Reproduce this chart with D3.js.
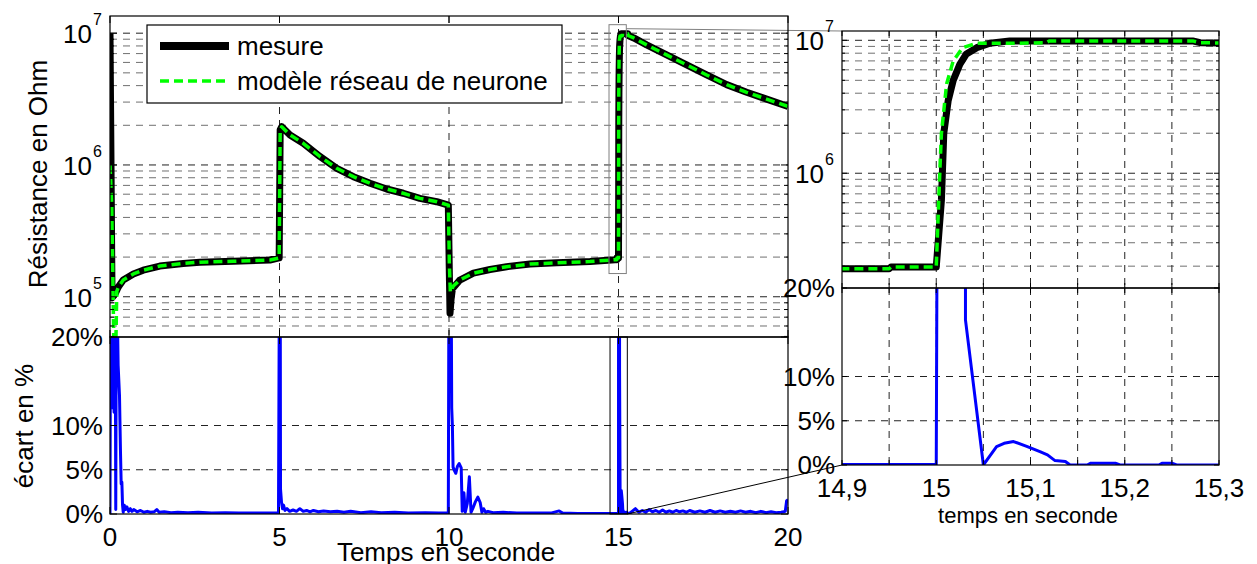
<!DOCTYPE html>
<html>
<head>
<meta charset="utf-8">
<script src="https://cdn.jsdelivr.net/npm/d3@7"></script>
<style>
  body { margin: 0; background: #fff; }
  svg { display: block; font-family: "Liberation Sans", Arial, sans-serif; }
</style>
</head>
<body>
<svg id="chart"></svg>
<script>
// Valeurs : [temps (s), résistance (Ohm)]
const mesure = [
  [0, 1e7], [0.06, 9.8e4], [0.15, 1.05e5], [0.22, 1.15e5], [0.25, 1.19e5], [0.39, 1.34e5],
  [0.69, 1.49e5], [0.98, 1.59e5], [1.47, 1.71e5], [2.16, 1.79e5], [2.65, 1.83e5],
  [3.64, 1.86e5], [4.72, 1.9e5], [4.99, 1.97e5], [5.02, 1.85e6], [5.065, 1.95e6],
  [5.31, 1.69e6], [5.7, 1.46e6], [6.19, 1.16e6], [6.69, 9.44e5], [7.18, 8.15e5],
  [7.67, 7.26e5], [8.16, 6.57e5], [8.65, 6.1e5], [9.14, 5.58e5], [9.64, 5.26e5],
  [9.98, 4.96e5], [10.01, 1.5e5], [10.03, 7.5e4], [10.06, 9.5e4], [10.1, 1.15e5],
  [10.32, 1.34e5], [10.72, 1.51e5], [11.21, 1.61e5], [11.7, 1.69e5], [12.39, 1.77e5],
  [13.18, 1.81e5], [14.16, 1.85e5], [14.9, 1.91e5], [14.95, 1.91e5], [14.952, 1.97e5],
  [15.0, 1.97e5], [15.0055, 6.3e5], [15.008, 2e6], [15.0126, 3.5e6], [15.018, 5e6],
  [15.025, 6.6e6], [15.032, 7.9e6], [15.043, 8.8e6], [15.057, 9.5e6], [15.078, 9.9e6],
  [15.272, 9.9e6], [15.28, 9.6e6], [15.45, 9.2e6], [15.83, 8.15e6], [16.42, 6.84e6],
  [17.01, 5.74e6], [17.6, 4.82e6], [18.19, 4.07e6], [18.78, 3.56e6], [19.37, 3.16e6],
  [20, 2.78e6]
];

const modele = [
  [0, 1e6], [0.05, 5e5], [0.12, 3.5e4], [0.17, 4e4], [0.2, 1.1e5], [0.25, 1.19e5], [0.39, 1.34e5],
  [0.69, 1.49e5], [0.98, 1.59e5], [1.47, 1.71e5], [2.16, 1.79e5], [2.65, 1.83e5],
  [3.64, 1.86e5], [4.72, 1.9e5], [4.99, 1.97e5], [5.02, 1.85e6], [5.065, 1.95e6],
  [5.31, 1.69e6], [5.7, 1.46e6], [6.19, 1.16e6], [6.69, 9.44e5], [7.18, 8.15e5],
  [7.67, 7.26e5], [8.16, 6.57e5], [8.65, 6.1e5], [9.14, 5.58e5], [9.64, 5.26e5],
  [9.98, 4.96e5], [10.01, 1.8e5], [10.04, 1.08e5], [10.08, 1.12e5], [10.12, 1.2e5],
  [10.32, 1.34e5], [10.72, 1.51e5], [11.21, 1.61e5], [11.7, 1.69e5], [12.39, 1.77e5],
  [13.18, 1.81e5], [14.16, 1.85e5], [14.9, 1.91e5], [14.95, 1.91e5], [14.952, 1.97e5],
  [15.0, 1.97e5], [15.004, 1.12e6], [15.0055, 2e6], [15.011, 4.7e6], [15.018, 7e6],
  [15.028, 8.8e6], [15.043, 9.5e6], [15.081, 9.5e6], [15.117, 9.6e6], [15.12, 9.9e6],
  [15.272, 9.9e6], [15.28, 9.6e6], [15.45, 9.2e6], [15.83, 8.15e6], [16.42, 6.84e6],
  [17.01, 5.74e6], [17.6, 4.82e6], [18.19, 4.07e6], [18.78, 3.56e6], [19.37, 3.16e6],
  [20, 2.78e6]
];

// écart en % : [temps (s), écart]
const ecart = [
  [0, 0], [0.02, 30], [0.06, 12], [0.09, 30], [0.12, 11.5], [0.15, 30], [0.17, 0.5], [0.19, 30],
  [0.24, 16.8], [0.28, 13.4], [0.31, 6.9], [0.33, 3.4], [0.35, 3.6], [0.37, 1.0], [0.39, 0.2],
  [0.42, 1.0], [0.45, 0.5], [0.5, 0.8], [0.55, 0.3], [0.6, 0.6], [0.65, 0.3], [0.7, 0.5],
  [0.8, 0.25], [0.9, 0.4], [1.0, 0.2], [1.1, 0.3], [1.2, 0.2], [1.3, 0.25], [1.38, 0.5],
  [1.45, 0.2], [1.6, 0.25], [1.8, 0.15], [2.0, 0.2], [2.3, 0.15], [2.6, 0.2], [3.0, 0.1],
  [3.4, 0.15], [3.8, 0.1], [4.2, 0.1], [4.6, 0.1], [4.97, 0.1],
  [5.0, 30], [5.02, 30], [5.03, 2.8], [5.06, 1.3], [5.09, 0.6], [5.12, 1.0], [5.16, 0.4],
  [5.22, 0.6], [5.3, 0.3], [5.4, 0.45], [5.5, 0.3], [5.6, 0.6], [5.7, 0.3], [5.8, 0.4],
  [5.9, 0.25], [6.0, 0.4], [6.15, 0.25], [6.3, 0.35], [6.5, 0.25], [6.7, 0.3], [6.9, 0.2],
  [7.1, 0.3], [7.4, 0.15], [7.7, 0.25], [8.0, 0.15], [8.4, 0.2], [8.8, 0.1], [9.3, 0.15],
  [9.7, 0.1], [9.98, 0.1],
  [10.0, 30], [10.06, 30], [10.08, 12], [10.1, 10], [10.12, 5.3], [10.16, 4.9], [10.2, 4.6],
  [10.25, 5.4], [10.3, 5.7], [10.36, 5.2], [10.39, 0.3], [10.44, 2.4], [10.48, 0.2],
  [10.54, 1.2], [10.6, 4.2], [10.65, 0.2], [10.7, 0.6], [10.78, 1.4], [10.85, 1.9],
  [10.92, 1.3], [10.97, 0.2], [11.02, 0.6], [11.08, 0.2], [11.15, 0.3], [11.3, 0.15],
  [11.6, 0.2], [12.0, 0.1], [12.5, 0.1], [13.0, 0.1], [13.25, 0.35], [13.35, 0.1],
  [13.8, 0.05], [14.4, 0.05], [15.0, 0.05],
  [15.001, 30], [15.031, 30], [15.031, 16.4], [15.05, 0], [15.064, 2.07], [15.072, 2.45],
  [15.082, 2.65], [15.096, 2.1], [15.11, 1.5], [15.118, 1.15], [15.126, 0.5], [15.137, 0.4],
  [15.142, 0], [15.16, 0], [15.164, 0.2], [15.19, 0.2], [15.195, 0], [15.236, 0], [15.24, 0.2],
  [15.25, 0.2], [15.255, 0], [15.3, 0],
  [15.4, 0.3], [15.5, 0.6], [15.6, 0.2], [15.7, 0.4], [15.8, 0.2], [15.9, 0.5], [16.0, 0.25],
  [16.1, 0.4], [16.2, 0.2], [16.3, 0.45], [16.4, 0.2], [16.5, 0.35], [16.6, 0.2], [16.7, 0.4],
  [16.8, 0.25], [16.9, 0.35], [17.0, 0.2], [17.1, 0.4], [17.25, 0.2], [17.4, 0.35], [17.55, 0.2],
  [17.7, 0.4], [17.85, 0.2], [18.0, 0.35], [18.15, 0.2], [18.3, 0.3], [18.45, 0.2], [18.6, 0.35],
  [18.75, 0.2], [18.9, 0.3], [19.05, 0.15], [19.2, 0.3], [19.35, 0.15], [19.5, 0.25],
  [19.65, 0.15], [19.8, 0.2], [19.92, 0.3], [19.96, 1.5], [20, 1.6]
];

// Graduations
const xTicksMain = [0, 5, 10, 15, 20];
const xGridMain = [5, 10, 15];
const xTicksZoom = [14.9, 14.95, 15, 15.05, 15.1, 15.15, 15.2, 15.25, 15.3];
const xLabelZoomVals = [14.9, 15, 15.1, 15.2, 15.3];
const xLabelZoomText = ["14,9", "15", "15,1", "15,2", "15,3"];
const pctTicks = [0, 5, 10, 20];
const pctGrid = [5, 10];
const decades = [5, 6, 7];

// Zoom
const zoomTime = [14.9, 15.3];
const boxTopTime = [14.72, 15.23];
const boxTopRes = [1.5e5, 1.16e7];
const boxBotTime = [14.75, 15.26];

const W = 1257, H = 564;
const svg = d3.select("#chart").attr("width", W).attr("height", H);

// cadres des 4 axes
const TL = { l: 110, r: 788, t: 16, b: 337 };
const BL = { l: 110, r: 788, t: 337, b: 514 };
const TR = { l: 842, r: 1219, t: 31, b: 288 };
const BR = { l: 842, r: 1219, t: 288, b: 465 };

const xMain = d3.scaleLinear().domain([0, 20]).range([TL.l, TL.r]);
const xZoom = d3.scaleLinear().domain(zoomTime).range([TR.l, TR.r]);
const yTL = d3.scaleLog().domain([4.95e4, 1.35e7]).range([TL.b, TL.t]);
const yTR = d3.scaleLog().domain([1.37e5, 1.175e7]).range([TR.b, TR.t]);
const yBL = d3.scaleLinear().domain([0, 20]).range([BL.b, BL.t]);
const yBR = d3.scaleLinear().domain([0, 20]).range([BR.b, BR.t]);

const defs = svg.append("defs");
function clip(id, f) {
  defs.append("clipPath").attr("id", id).append("rect")
    .attr("x", f.l).attr("y", f.t).attr("width", f.r - f.l).attr("height", f.b - f.t);
  return `url(#${id})`;
}
const cTL = clip("cTL", TL), cTR = clip("cTR", TR), cBL = clip("cBL", BL), cBR = clip("cBR", BR);

const dash = "7,6";

function hGrid(f, vals, y, major) {
  svg.append("g").selectAll("line").data(vals).join("line")
    .attr("x1", f.l).attr("x2", f.r)
    .attr("y1", d => y(d)).attr("y2", d => y(d))
    .attr("stroke", d => (major && major(d)) ? "#222" : "#707070")
    .attr("stroke-width", 1).attr("stroke-dasharray", dash);
}
function vGrid(f, vals, x) {
  svg.append("g").selectAll("line").data(vals).join("line")
    .attr("y1", f.t).attr("y2", f.b)
    .attr("x1", d => x(d)).attr("x2", d => x(d))
    .attr("stroke", "#222").attr("stroke-width", 1).attr("stroke-dasharray", dash);
}
const isDecade = d => Math.abs(Math.log10(d) - Math.round(Math.log10(d))) < 1e-9;

// grilles
hGrid(TL, yTL.ticks().filter(d => yTL(d) > TL.t + 1 && yTL(d) < TL.b - 1), yTL, isDecade);
vGrid(TL, xGridMain, xMain);
hGrid(TR, yTR.ticks().filter(d => yTR(d) > TR.t + 1 && yTR(d) < TR.b - 1), yTR, isDecade);
vGrid(TR, xTicksZoom.slice(1, -1), xZoom);
hGrid(BL, pctGrid, yBL, () => true);
hGrid(BR, pctGrid, yBR, () => true);
vGrid(BR, xTicksZoom.slice(1, -1), xZoom);

// courbes
function drawRes(x, y, cp) {
  const line = d3.line().x(d => x(d[0])).y(d => y(d[1]));
  const g = svg.append("g").attr("clip-path", cp);
  g.append("path").datum(mesure).attr("d", line)
    .attr("fill", "none").attr("stroke", "#000").attr("stroke-width", 7)
    .attr("stroke-linejoin", "round");
  g.append("path").datum(modele).attr("d", line)
    .attr("fill", "none").attr("stroke", "#00ff00").attr("stroke-width", 3.5)
    .attr("stroke-dasharray", "9,5").attr("stroke-linejoin", "round");
}
drawRes(xMain, yTL, cTL);
drawRes(xZoom, yTR, cTR);

function drawErr(x, y, cp, w) {
  const line = d3.line().x(d => x(d[0])).y(d => y(d[1]));
  svg.append("g").attr("clip-path", cp).append("path").datum(ecart).attr("d", line)
    .attr("fill", "none").attr("stroke", "#0000ff").attr("stroke-width", w)
    .attr("stroke-linejoin", "round");
}
drawErr(xMain, yBL, cBL, 3);
drawErr(xZoom, yBR, cBR, 3);

// rectangles de zoom et traits de liaison
svg.append("rect")
  .attr("x", xMain(boxTopTime[0])).attr("y", yTL(boxTopRes[1]))
  .attr("width", xMain(boxTopTime[1]) - xMain(boxTopTime[0]))
  .attr("height", yTL(boxTopRes[0]) - yTL(boxTopRes[1]))
  .attr("fill", "none").attr("stroke", "#808080").attr("stroke-width", 1);
svg.append("rect")
  .attr("x", xMain(boxBotTime[0])).attr("y", BL.t)
  .attr("width", xMain(boxBotTime[1]) - xMain(boxBotTime[0]))
  .attr("height", BL.b - BL.t)
  .attr("fill", "none").attr("stroke", "#000").attr("stroke-width", 1);
svg.append("line")
  .attr("x1", xMain(boxTopTime[1])).attr("y1", yTL(boxTopRes[1]) + 4)
  .attr("x2", TR.l).attr("y2", TR.t)
  .attr("stroke", "#808080").attr("stroke-width", 1);
svg.append("line")
  .attr("x1", xMain(boxBotTime[1])).attr("y1", BL.b)
  .attr("x2", BR.l).attr("y2", BR.b)
  .attr("stroke", "#000").attr("stroke-width", 1);

// cadres et graduations
function frame(f) {
  svg.append("rect").attr("x", f.l).attr("y", f.t)
    .attr("width", f.r - f.l).attr("height", f.b - f.t)
    .attr("fill", "none").attr("stroke", "#000").attr("stroke-width", 1.2);
}
function xTickMarks(f, vals, x, len) {
  const g = svg.append("g").attr("stroke", "#000");
  vals.forEach(v => {
    g.append("line").attr("x1", x(v)).attr("x2", x(v)).attr("y1", f.b).attr("y2", f.b - len);
    g.append("line").attr("x1", x(v)).attr("x2", x(v)).attr("y1", f.t).attr("y2", f.t + len);
  });
}
function yTickMarks(f, vals, y, lenFn) {
  const g = svg.append("g").attr("stroke", "#000");
  vals.forEach(v => {
    const len = lenFn(v);
    g.append("line").attr("x1", f.l).attr("x2", f.l + len).attr("y1", y(v)).attr("y2", y(v));
    g.append("line").attr("x1", f.r).attr("x2", f.r - len).attr("y1", y(v)).attr("y2", y(v));
  });
}

xTickMarks(TL, xTicksMain, xMain, 7);
xTickMarks(BL, xTicksMain, xMain, 7);
xTickMarks(TR, xTicksZoom, xZoom, 5);
xTickMarks(BR, xTicksZoom, xZoom, 5);
yTickMarks(TL, yTL.ticks(), yTL, d => isDecade(d) ? 7 : 4);
yTickMarks(TR, yTR.ticks(), yTR, d => isDecade(d) ? 5 : 3);
yTickMarks(BL, pctTicks, yBL, () => 7);
yTickMarks(BR, pctTicks, yBR, () => 5);
[TL, BL, TR, BR].forEach(frame);

// étiquettes
const FS = 26;
function decadeLabels(f, y) {
  const g = svg.append("g").attr("fill", "#000");
  decades.filter(k => y(Math.pow(10, k)) >= f.t - 1 && y(Math.pow(10, k)) <= f.b + 1).forEach(k => {
    const yy = y(Math.pow(10, k));
    g.append("text").attr("x", f.l - 18).attr("y", yy + 10)
      .attr("text-anchor", "end").attr("font-size", FS).text("10");
    g.append("text").attr("x", f.l - 17).attr("y", yy - 8)
      .attr("font-size", 16).text(k);
  });
}
decadeLabels(TL, yTL);
decadeLabels(TR, yTR);

function pctLabels(f, y) {
  svg.append("g").selectAll("text").data(pctTicks).join("text")
    .attr("x", f.l - 7).attr("y", d => y(d) + 9)
    .attr("text-anchor", "end").attr("font-size", FS)
    .text(d => d + "%");
}
pctLabels(BL, yBL);
pctLabels(BR, yBR);

svg.append("g").selectAll("text").data(xTicksMain).join("text")
  .attr("x", d => xMain(d)).attr("y", BL.b + 32)
  .attr("text-anchor", "middle").attr("font-size", FS).text(d => d);
svg.append("g").selectAll("text").data(xLabelZoomVals).join("text")
  .attr("x", d => xZoom(d)).attr("y", BR.b + 32)
  .attr("text-anchor", "middle").attr("font-size", FS)
  .text((d, i) => xLabelZoomText[i]);

svg.append("text").attr("x", 446).attr("y", 561)
  .attr("text-anchor", "middle").attr("font-size", FS).text("Temps en seconde");
svg.append("text").attr("x", 1028).attr("y", 523)
  .attr("text-anchor", "middle").attr("font-size", 22).text("temps en seconde");
svg.append("text").attr("transform", "translate(47,174) rotate(-90)")
  .attr("text-anchor", "middle").attr("font-size", FS).text("Résistance en Ohm");
svg.append("text").attr("transform", "translate(33,426) rotate(-90)")
  .attr("text-anchor", "middle").attr("font-size", FS).text("écart en %");

// légende
const leg = svg.append("g");
leg.append("rect").attr("x", 147).attr("y", 25).attr("width", 415).attr("height", 78)
  .attr("fill", "#fff").attr("stroke", "#000").attr("stroke-width", 1.2);
leg.append("line").attr("x1", 160).attr("x2", 229).attr("y1", 46).attr("y2", 46)
  .attr("stroke", "#000").attr("stroke-width", 8);
leg.append("line").attr("x1", 160).attr("x2", 229).attr("y1", 81).attr("y2", 81)
  .attr("stroke", "#00ff00").attr("stroke-width", 3.5).attr("stroke-dasharray", "9,5");
leg.append("text").attr("x", 237).attr("y", 55).attr("font-size", FS).text("mesure");
leg.append("text").attr("x", 237).attr("y", 90).attr("font-size", FS).text("modèle réseau de neurone");
</script>
</body>
</html>
